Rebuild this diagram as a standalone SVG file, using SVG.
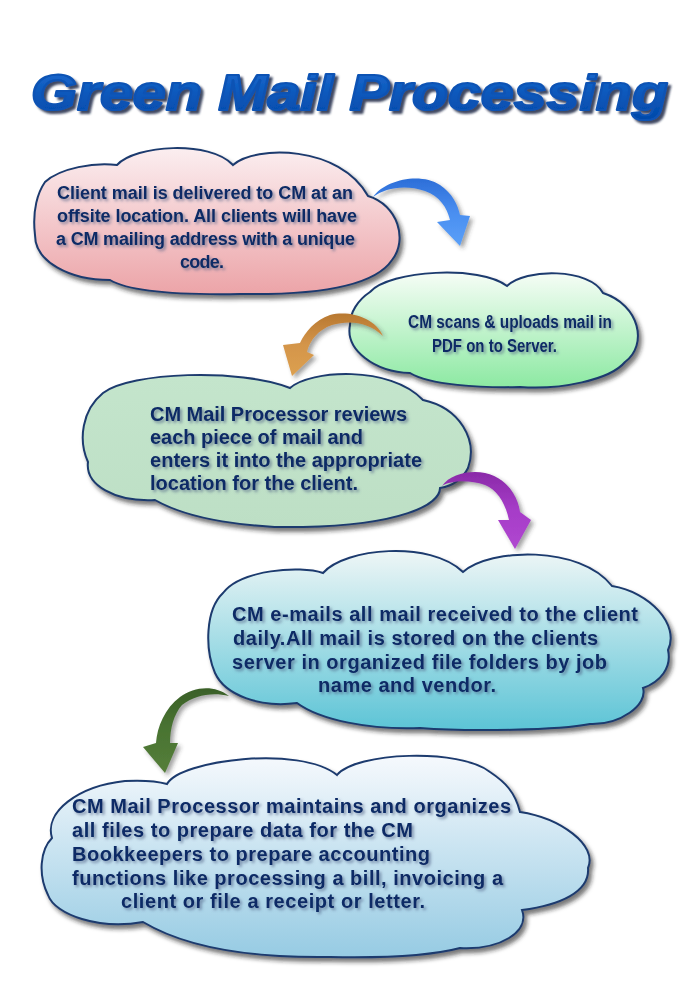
<svg xmlns="http://www.w3.org/2000/svg" width="700" height="1000" viewBox="0 0 700 1000">
<defs>
<style>
.cloud{stroke:#1c3a6e;stroke-width:2;stroke-linejoin:miter;filter:url(#cshadow)}
.t{font-family:"Liberation Sans",Arial,sans-serif;font-weight:bold;font-size:18px;fill:#0b2c66;filter:url(#tshadow)}
.t3{font-size:20px}
.t4{font-size:20px}
.arrow{filter:url(#ashadow)}
.title{font-family:"Liberation Sans",Arial,sans-serif;font-weight:bold;font-style:italic;font-size:50px;fill:url(#gTitle);stroke:#0a52b4;stroke-width:2.2;stroke-linejoin:round;filter:url(#titleShadow)}
</style>
<filter id="cshadow" x="-10%" y="-10%" width="125%" height="130%">
<feDropShadow dx="3" dy="4" stdDeviation="2" flood-color="#222" flood-opacity="0.6"/>
</filter>
<filter id="tshadow" x="-5%" y="-30%" width="115%" height="170%">
<feDropShadow dx="2" dy="2" stdDeviation="1.5" flood-color="#4a5a80" flood-opacity="0.65"/>
</filter>
<filter id="ashadow" x="-30%" y="-30%" width="160%" height="160%">
<feDropShadow dx="3" dy="3" stdDeviation="2" flood-color="#333" flood-opacity="0.45"/>
</filter>
<filter id="titleShadow" x="-5%" y="-20%" width="115%" height="150%">
<feDropShadow dx="3" dy="3" stdDeviation="1" flood-color="#1a2a48" flood-opacity="0.85"/>
</filter>
<linearGradient id="gTitle" x1="0" y1="0" x2="0" y2="1">
<stop offset="0" stop-color="#1a6ad0"/><stop offset="1" stop-color="#0048a8"/>
</linearGradient>
<linearGradient id="g1" x1="0" y1="0" x2="0" y2="1">
<stop offset="0" stop-color="#fbeef0"/><stop offset="1" stop-color="#eca4a8"/>
</linearGradient>
<linearGradient id="g2" x1="0" y1="0" x2="0" y2="1">
<stop offset="0" stop-color="#f6fdf6"/><stop offset="1" stop-color="#8ce9a2"/>
</linearGradient>
<linearGradient id="g3" x1="0" y1="0" x2="0" y2="1">
<stop offset="0" stop-color="#c4e5cc"/><stop offset="1" stop-color="#bddfc5"/>
</linearGradient>
<linearGradient id="g4" x1="0" y1="0" x2="0" y2="1">
<stop offset="0" stop-color="#eef6f6"/><stop offset="1" stop-color="#5cc4d6"/>
</linearGradient>
<linearGradient id="g5" x1="0" y1="0" x2="0" y2="1">
<stop offset="0" stop-color="#f6f9fd"/><stop offset="1" stop-color="#96cbe3"/>
</linearGradient>
<linearGradient id="aBlue" x1="0" y1="0" x2="0" y2="1">
<stop offset="0" stop-color="#2c6ed8"/><stop offset="0.5" stop-color="#4a8ef0"/><stop offset="1" stop-color="#5aa0f8"/>
</linearGradient>
<linearGradient id="aOrange" x1="0" y1="0" x2="0" y2="1">
<stop offset="0" stop-color="#b87830"/><stop offset="0.5" stop-color="#d4954a"/><stop offset="1" stop-color="#dca050"/>
</linearGradient>
<linearGradient id="aPurple" x1="0" y1="0" x2="0" y2="1">
<stop offset="0" stop-color="#8a2aa8"/><stop offset="0.5" stop-color="#a63cc8"/><stop offset="1" stop-color="#b048d0"/>
</linearGradient>
<linearGradient id="aGreen" x1="0" y1="0" x2="0" y2="1">
<stop offset="0" stop-color="#3a6028"/><stop offset="0.5" stop-color="#4a7432"/><stop offset="1" stop-color="#557e3a"/>
</linearGradient>
</defs>
<rect width="700" height="1000" fill="#ffffff"/>

<g id="title">
<text class="title" x="31" y="110" textLength="637" lengthAdjust="spacingAndGlyphs">Green Mail Processing</text>
</g>

<g id="node1">
<path class="cloud" fill="url(#g1)" d="M45,182 C60,168 95,162 117,165 C135,145 210,140 233,165 C255,145 340,145 368,196 C398,205 408,240 392,260 C372,290 300,295 240,294 C180,295 130,292 110,280 C70,280 35,262 35,235 C32,210 38,192 45,182 Z"/>
<text class="t" x="57" y="199" textLength="296">Client mail is delivered to CM at an</text>
<text class="t" x="57" y="222" textLength="300">offsite location. All clients will have</text>
<text class="t" x="56" y="245" textLength="299">a CM mailing address with a unique</text>
<text class="t" x="180" y="268" textLength="44">code.</text>
</g>

<g id="node2">
<path class="cloud" fill="url(#g2)" d="M370,292 C390,270 480,265 507,286 C525,268 590,268 603,293 C640,305 648,345 625,362 C610,380 560,390 520,387 C480,388 430,385 410,373 C375,372 345,350 350,325 C350,312 358,300 370,292 Z"/>
<text class="t" x="408" y="328" textLength="204" lengthAdjust="spacingAndGlyphs">CM scans &amp; uploads mail in</text>
<text class="t" x="432" y="352" textLength="125" lengthAdjust="spacingAndGlyphs">PDF on to Server.</text>
</g>

<g id="node3">
<path class="cloud" fill="url(#g3)" d="M103,393 C130,372 240,368 290,388 C310,370 390,365 423,400 C460,408 478,440 468,468 C462,480 452,486 440,488 C440,505 400,525 303,527 C250,528 190,520 155,500 C115,502 85,485 88,462 C78,440 82,410 103,393 Z"/>
<text class="t t3" x="150" y="421" textLength="257">CM Mail Processor reviews</text>
<text class="t t3" x="150" y="444" textLength="213">each piece of mail and</text>
<text class="t t3" x="150" y="467" textLength="272">enters it into the appropriate</text>
<text class="t t3" x="150" y="490" textLength="208">location for the client.</text>
</g>

<g id="node4">
<path class="cloud" fill="url(#g4)" d="M223,593 C240,570 300,565 323,573 C345,548 430,540 463,572 C490,548 580,545 612,586 C650,592 680,625 668,650 C672,668 660,682 643,688 C648,705 620,725 590,724 C560,730 470,732 420,728 C370,730 320,720 297,703 C260,708 225,695 215,673 C205,650 205,610 223,593 Z"/>
<text class="t t4" x="232" y="621" textLength="406">CM e-mails all mail received to the client</text>
<text class="t t4" x="233" y="645" textLength="365">daily.All mail is stored on the clients</text>
<text class="t t4" x="232" y="669" textLength="375">server in organized file folders by job</text>
<text class="t t4" x="318" y="692" textLength="178">name and vendor.</text>
</g>

<g id="node5">
<path class="cloud" fill="url(#g5)" d="M52,838 C44,812 78,786 125,781 C145,780 160,782 167,784 C180,760 300,745 337,775 C355,752 460,748 490,772 C505,782 515,792 520,812 C560,818 598,845 588,868 C590,892 560,905 522,910 C530,932 500,950 460,948 C430,956 380,958 330,957 C260,958 190,950 143,922 C100,930 55,915 48,895 C38,875 40,850 52,838 Z"/>
<text class="t t4" x="72" y="813" textLength="439">CM Mail Processor maintains and organizes</text>
<text class="t t4" x="72" y="837" textLength="341">all files to prepare data for the CM</text>
<text class="t t4" x="72" y="861" textLength="358">Bookkeepers to prepare accounting</text>
<text class="t t4" x="72" y="885" textLength="431">functions like processing a bill, invoicing a</text>
<text class="t t4" x="121" y="908" textLength="304">client or file a receipt or letter.</text>
</g>

<g id="connectors">
<path class="arrow" fill="url(#aBlue)" d="M373,197 C385,180 420,172 440,185 C452,193 458,205 460,215 L470,216 L460,246 L437,222 L450,220 C447,208 440,196 425,191 C405,184 385,188 373,197 Z"/>
<path class="arrow" fill="url(#aOrange)" d="M383,336 C375,318 350,310 330,315 C315,320 305,332 300,343 L283,345 L292,376 L314,355 L307,352 C310,340 318,330 332,325 C350,320 368,322 383,336 Z"/>
<path class="arrow" fill="url(#aPurple)" d="M442,486 C450,474 470,470 485,473 C505,477 518,495 520,512 L531,520 L515,549 L498,520 L509,520 C506,505 498,490 485,485 C470,480 452,480 442,486 Z"/>
<path class="arrow" fill="url(#aGreen)" d="M229,696 C215,685 195,686 180,697 C165,708 157,727 156,743 L143,747 L165,773 L178,743 L170,743 C170,728 174,714 182,705 C195,695 212,692 229,696 Z"/>
</g>
</svg>
